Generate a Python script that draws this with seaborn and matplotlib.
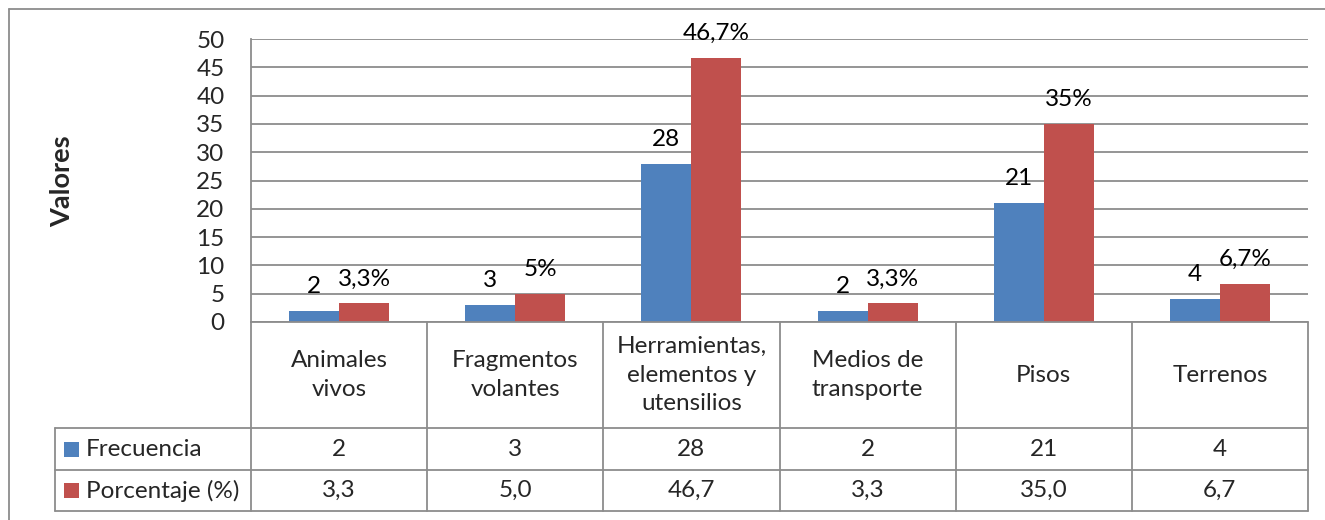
import matplotlib
matplotlib.use("Agg")
import matplotlib.pyplot as plt
import seaborn as sns
import pandas as pd
from matplotlib.lines import Line2D
from matplotlib.patches import Rectangle

categories = ["Animales\nvivos", "Fragmentos\nvolantes", "Herramientas,\nelementos y\nutensilios",
              "Medios de\ntransporte", "Pisos", "Terrenos"]
series_names = ["Frecuencia", "Porcentaje (%)"]
frecuencia = [2, 3, 28, 2, 21, 4]
porcentaje = [3.3, 5.0, 46.7, 3.3, 35.0, 6.7]
freq_labels = ["2", "3", "28", "2", "21", "4"]
pct_labels = ["3,3%", "5%", "46,7%", "3,3%", "35%", "6,7%"]
freq_table = ["2", "3", "28", "2", "21", "4"]
pct_table = ["3,3", "5,0", "46,7", "3,3", "35,0", "6,7"]
yticks = [0, 5, 10, 15, 20, 25, 30, 35, 40, 45, 50]

BLUE = "#4F81BD"
RED = "#C0504D"
GRID = "#8C8C8C"

sns.set_theme(style="white")
plt.rcParams["font.family"] = ["Lato", "DejaVu Sans"]
FS = 17.5

W, H = 1325, 520
fig = plt.figure(figsize=(W / 100, H / 100), dpi=100)

def fx(px):
    return px / W

def fy(py):
    return 1 - py / H

ax_l, ax_r, ax_t, ax_b = 251, 1308, 39, 322
ax = fig.add_axes([fx(ax_l), fy(ax_b), fx(ax_r - ax_l), (ax_b - ax_t) / H])

df = pd.DataFrame({
    "cat": categories * 2,
    "val": frecuencia + porcentaje,
    "serie": [series_names[0]] * 6 + [series_names[1]] * 6,
})
sns.barplot(data=df, x="cat", y="val", hue="serie", palette=[BLUE, RED],
            width=0.568, saturation=1, ax=ax, legend=False, zorder=3, linewidth=0)
ax.set_xlim(-0.5, 5.5)
ax.set_ylim(0, 50)
ax.set_yticks(yticks)
ax.set_yticklabels([str(t) for t in yticks], fontsize=FS)
ax.tick_params(axis="y", length=0, pad=19)
ax.set_xticks([])
ax.set_xlabel("")
ax.set_ylabel("")
ax.yaxis.grid(True, color=GRID, lw=1.3, zorder=0)
ax.set_axisbelow(True)
for s in ["top", "right", "bottom"]:
    ax.spines[s].set_visible(False)
ax.spines["left"].set_color(GRID)
ax.spines["left"].set_linewidth(1.3)
ax.set_facecolor("white")

for cont, labs in zip(ax.containers, [freq_labels, pct_labels]):
    ax.bar_label(cont, labels=labs, padding=10, fontsize=FS, color="black", clip_on=False)

fig.text(fx(62), fy(181), "Valores", rotation=90, fontsize=19.5, fontweight="bold",
         ha="center", va="center")

# data table
t_top, t_bot = 322, 511
tab = fig.add_axes([fx(ax_l), fy(t_bot), fx(ax_r - ax_l), (t_bot - t_top) / H])
tab.set_xlim(-0.5, 5.5)
tab.set_ylim(t_bot - t_top, 0)
tab.axis("off")
colw = (ax_r - ax_l) / 6
leg_x = -0.5 - (ax_l - 55) / colw
rows = [0, 106, 148, 189]
lk = dict(color=GRID, lw=1.3, clip_on=False)
for i in range(7):
    tab.add_line(Line2D([-0.5 + i, -0.5 + i], [0, rows[3]], **lk))
tab.add_line(Line2D([leg_x, leg_x], [rows[1], rows[3]], **lk))
for r in rows[1:]:
    tab.add_line(Line2D([leg_x, 5.5], [r, r], **lk))
tab.add_line(Line2D([-0.5, 5.5], [0, 0], **lk))

for i, c in enumerate(categories):
    tab.text(i, rows[1] / 2, c, ha="center", va="center", fontsize=FS, linespacing=1.45)
    tab.text(i, (rows[1] + rows[2]) / 2, freq_table[i], ha="center", va="center", fontsize=FS)
    tab.text(i, (rows[2] + rows[3]) / 2, pct_table[i], ha="center", va="center", fontsize=FS)

sq = 15 / colw
for (r0, r1), name, col in zip([(rows[1], rows[2]), (rows[2], rows[3])], series_names, [BLUE, RED]):
    yc = (r0 + r1) / 2
    x0 = leg_x + 9 / colw
    tab.add_patch(Rectangle((x0, yc - 7.5), sq, 15, facecolor=col, edgecolor="none", clip_on=False))
    tab.text(x0 + sq + 7 / colw, yc, name, ha="left", va="center", fontsize=FS)

# outer chart border
fig.add_artist(Line2D([fx(9), fx(1325)], [fy(9), fy(9)], color=GRID, lw=1.3))
fig.add_artist(Line2D([fx(9), fx(9)], [fy(9), fy(520)], color=GRID, lw=1.3))

fig.savefig("out.png", dpi=100, facecolor="white")
